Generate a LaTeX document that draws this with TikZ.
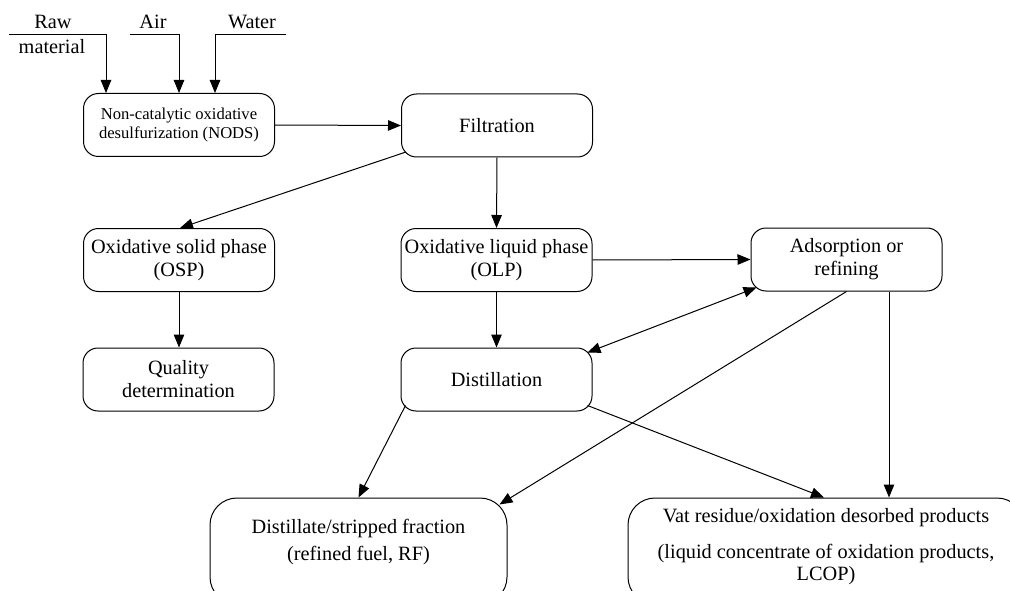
\documentclass[tikz,border=0pt]{standalone}
\usepackage{fontspec}
\setmainfont{Liberation Serif}
\usetikzlibrary{arrows.meta,calc}
\begin{document}
\begin{tikzpicture}[x=1pt,y=-1pt,
  box/.style={draw,line width=1pt,rounded corners=15pt,minimum width=191pt,minimum height=63pt,align=center,inner sep=0pt,font=\fontsize{20.3}{23}\selectfont},
  bigbox/.style={draw,line width=1pt,rounded corners=27pt,minimum height=106pt,inner sep=0pt},
  txt/.style={inner sep=0pt,font=\fontsize{20.3}{23}\selectfont},
  arr/.style={line width=1pt,-{Triangle[length=13pt,width=10.5pt]}},
  darr/.style={line width=1pt,{Triangle[length=13pt,width=10.5pt]}-{Triangle[length=13pt,width=10.5pt]}}]
\useasboundingbox (0,0) rectangle (1010,591);
\clip (0,0) rectangle (1010,591);
% boxes
\node[box,font=\fontsize{16.6}{19.5}\selectfont] (nods) at (179,125) {Non-catalytic oxidative\\desulfurization (NODS)};
\node[box] (filt) at (497,125.5) {Filtration};
\node[box] (osp) at (179,260) {Oxidative solid phase\\(OSP)};
\node[box] (olp) at (496.5,260) {Oxidative liquid phase\\(OLP)};
\node[box] (ads) at (846.5,259.5) {Adsorption or\\refining};
\node[box] (qual) at (178.5,379.5) {Quality\\determination};
\node[box] (dist) at (496.5,379.5) {Distillation};
\node[bigbox,minimum width=297pt] (rf) at (358.5,551) {};
\node[txt] at (358.5,529) {Distillate/stripped fraction};
\node[txt] at (358.5,556) {(refined fuel, RF)};
\node[bigbox,minimum width=396pt] (vat) at (826,551) {};
\node[txt] at (826,518) {Vat residue/oxidation desorbed products};
\node[txt] at (826,554) {(liquid concentrate of oxidation products,};
\node[txt] at (826,576) {LCOP)};
% inputs
\node[txt] (traw) at (53,22) {Raw};
\node[txt] (tmat) at (52,47) {material};
\node[txt] (tair) at (153,22) {Air};
\node[txt] (twat) at (252,22) {Water};
\coordinate (rawin) at (9,34.5);
\coordinate (rawx) at (106,0);
\coordinate (airin) at (130,34.5);
\coordinate (airx) at (179,0);
\coordinate (watin) at (286,34.5);
\coordinate (watx) at (215,0);
\draw[arr] (rawin) -| (rawx |- nods.north);
\draw[arr] (airin) -| (airx |- nods.north);
\draw[arr] (watin) -| (watx |- nods.north);
% connectors
\draw[arr] (nods.east) -- (filt.west);
\draw[arr] ([shift={(5,-5.5)}]filt.south west) -- ([shift={(1,0)}]osp.north);
\draw[arr] (filt.south) -- (olp.north);
\draw[arr] (osp.south) -- (osp.south |- qual.north);
\draw[arr] (olp.east) -- (ads.west);
\draw[arr] (olp.south) -- (dist.north);
\draw[darr] ([shift={(6,-4)}]ads.south west) -- ([shift={(-5,5)}]dist.north east);
\draw[arr] (ads.south) -- ([shift={(-8,7)}]rf.north east);
\coordinate (vx) at (889,0);
\draw[arr] (vx |- ads.south) -- (vx |- vat.north);
\draw[arr] ([shift={(5,-6)}]dist.south west) -- (rf.north);
\draw[arr] ([shift={(-5,-6)}]dist.south east) -- ([shift={(-2,0)}]vat.north);
\end{tikzpicture}
\end{document}
